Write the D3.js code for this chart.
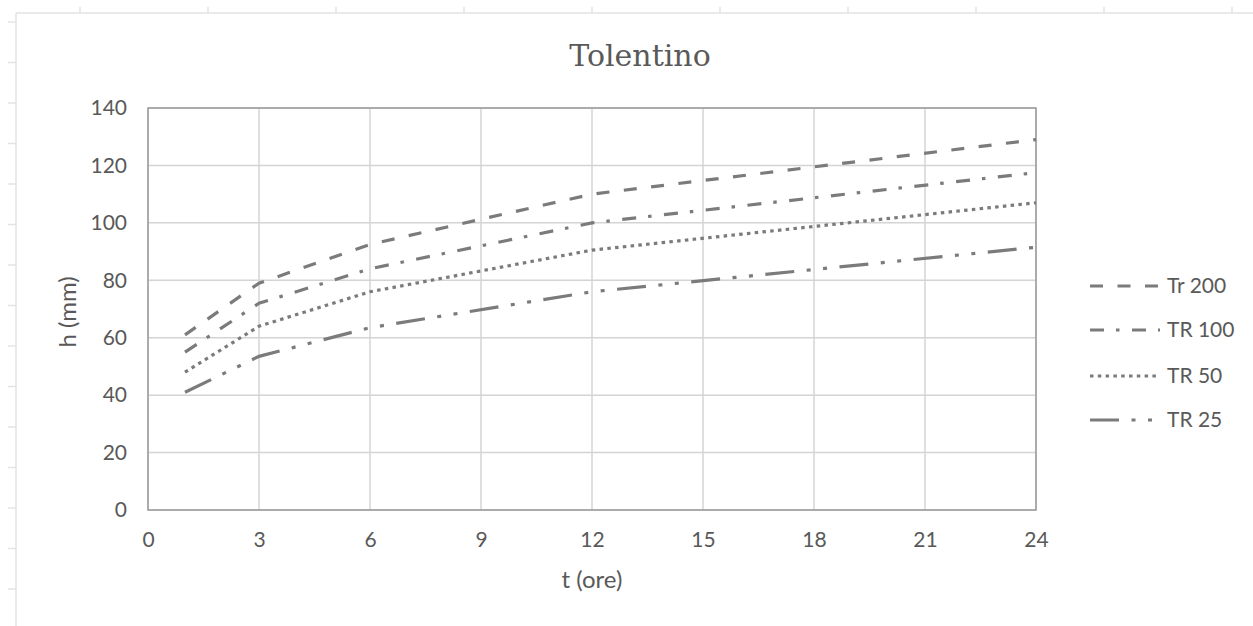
<!DOCTYPE html>
<html>
<head>
<meta charset="utf-8">
<script src="https://cdn.jsdelivr.net/npm/d3@7"></script>
<style>
  html, body { margin: 0; padding: 0; background: #ffffff; }
  svg { display: block; }
</style>
</head>
<body>
<svg id="chart" width="1253" height="626"></svg>
<script>
// Rainfall depth–duration curves for Tolentino
const hours = [1, 3, 6, 12, 24];
const seriesNames = ["Tr 200", "TR 100", "TR 50", "TR 25"];
const tr200 = [61, 79, 92.5, 110, 129];
const tr100 = [55, 72, 84, 100, 117.5];
const tr50 = [48, 64, 76, 90.5, 107];
const tr25 = [41, 53.5, 63.5, 76, 91.5];
const xTicks = [0, 3, 6, 9, 12, 15, 18, 21, 24];
const yTicks = [0, 20, 40, 60, 80, 100, 120, 140];

const seriesValues = [tr200, tr100, tr50, tr25];
const dashes = ["13 14.5", "14 12 3.5 12.5", "3.5 4.3", "29 12.5 4 12.5 4 12.5"];

const svg = d3.select("#chart");
const W = 1253, H = 626;
const plot = { left: 148, top: 108, right: 1036, bottom: 510 };

const textColor = "#595959";
const gridColor = "#d4d4d4";
const lineColor = "#7b7b7b";
const fontFamily = "Lato, 'Open Sans', sans-serif";

// faint sheet frame with cell marks
const frame = svg.append("g").attr("stroke", "#e3e3e3").attr("stroke-width", 1.5);
frame.append("line").attr("x1", 16).attr("x2", W).attr("y1", 13).attr("y2", 13);
frame.append("line").attr("x1", 16).attr("x2", 16).attr("y1", 13).attr("y2", H);
d3.range(80, W, 128).forEach(x => {
  frame.append("line").attr("x1", x).attr("x2", x).attr("y1", 7).attr("y2", 13);
});
d3.range(22, H, 40.5).forEach(y => {
  frame.append("line").attr("x1", 8).attr("x2", 16).attr("y1", y).attr("y2", y);
});

const x = d3.scaleLinear().domain([0, 24]).range([plot.left, plot.right]);
const y = d3.scaleLinear().domain([0, 140]).range([plot.bottom, plot.top]);

// gridlines
const grid = svg.append("g");
grid.selectAll("line.h").data(yTicks).join("line")
  .attr("x1", plot.left).attr("x2", plot.right)
  .attr("y1", d => y(d)).attr("y2", d => y(d))
  .attr("stroke", gridColor).attr("stroke-width", 1.5);
grid.selectAll("line.v").data(xTicks).join("line")
  .attr("y1", plot.top).attr("y2", plot.bottom)
  .attr("x1", d => x(d)).attr("x2", d => x(d))
  .attr("stroke", gridColor).attr("stroke-width", 1.5);

// plot border
svg.append("rect")
  .attr("x", plot.left).attr("y", plot.top)
  .attr("width", plot.right - plot.left).attr("height", plot.bottom - plot.top)
  .attr("fill", "none").attr("stroke", "#9a9a9a").attr("stroke-width", 1.5);

// axes (labels only)
const xAxis = svg.append("g")
  .attr("transform", `translate(0,${plot.bottom})`)
  .call(d3.axisBottom(x).tickValues(xTicks).tickSize(0).tickPadding(22));
const yAxis = svg.append("g")
  .attr("transform", `translate(${plot.left},0)`)
  .call(d3.axisLeft(y).tickValues(yTicks).tickSize(0).tickPadding(21));
[xAxis, yAxis].forEach(a => {
  a.select(".domain").remove();
  a.selectAll("text").attr("fill", textColor).style("font-family", fontFamily).style("font-size", "21px");
});

// series lines
const line = d3.line().x((d, i) => x(hours[i])).y(d => y(d));
svg.append("g").selectAll("path").data(seriesValues).join("path")
  .attr("d", d => line(d))
  .attr("fill", "none")
  .attr("stroke", lineColor)
  .attr("stroke-width", 3.2)
  .attr("stroke-dasharray", (d, i) => dashes[i]);

// title
svg.append("text")
  .attr("x", 640).attr("y", 66)
  .attr("text-anchor", "middle")
  .attr("fill", textColor)
  .style("font-family", "'DejaVu Serif', 'Liberation Serif', serif")
  .style("font-size", "30px")
  .text("Tolentino");

// axis titles
svg.append("text")
  .attr("x", (plot.left + plot.right) / 2).attr("y", 588)
  .attr("text-anchor", "middle").attr("fill", textColor)
  .style("font-family", fontFamily).style("font-size", "24px")
  .text("t (ore)");
svg.append("text")
  .attr("transform", `translate(76,${(plot.top + plot.bottom) / 2 + 3}) rotate(-90)`)
  .attr("text-anchor", "middle").attr("fill", textColor)
  .style("font-family", fontFamily).style("font-size", "24px")
  .text("h (mm)");

// legend
const legendY = [286, 330, 376, 420];
const legend = svg.append("g");
seriesNames.forEach((name, i) => {
  legend.append("line")
    .attr("x1", 1090).attr("x2", 1160)
    .attr("y1", legendY[i]).attr("y2", legendY[i])
    .attr("stroke", lineColor).attr("stroke-width", 3.2)
    .attr("stroke-dasharray", dashes[i]);
  legend.append("text")
    .attr("x", 1167).attr("y", legendY[i])
    .attr("dy", "0.35em")
    .attr("fill", textColor)
    .style("font-family", fontFamily).style("font-size", "21px")
    .text(name);
});
</script>
</body>
</html>
